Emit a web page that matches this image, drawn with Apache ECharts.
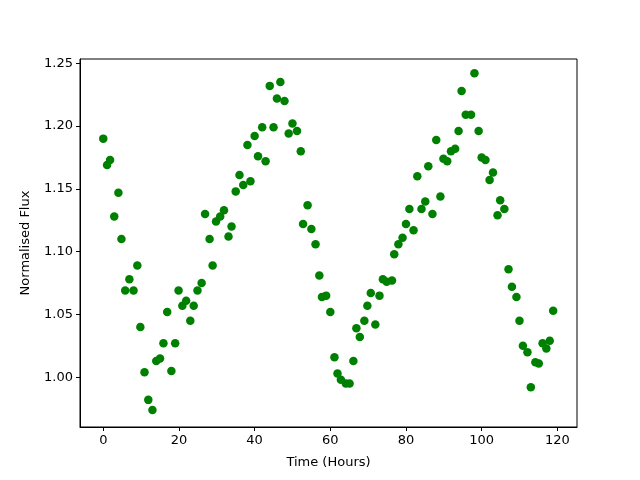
<!DOCTYPE html>
<html>
<head>
<meta charset="utf-8">
<script src="https://cdn.jsdelivr.net/npm/echarts@6/dist/echarts.min.js"></script>
<style>
  html, body { margin: 0; padding: 0; background: #fff; }
  #chart { width: 640px; height: 480px; }
</style>
</head>
<body>
<div id="chart"></div>
<script>
// 时间（小时）
const hours = [
    0, 1.0, 1.8, 2.9, 4.0, 4.8, 5.8, 6.9, 8.0, 9.0,
    9.8, 10.9, 11.9, 13.0, 14.0, 15.0, 15.9, 16.9, 18.0, 19.0,
    19.9, 20.9, 21.9, 23.0, 23.9, 24.9, 26.0, 26.9, 28.1, 28.9,
    29.8, 30.9, 31.9, 33.1, 33.9, 35.0, 36.0, 37.0, 38.1, 38.9,
    40.0, 40.9, 42.0, 42.9, 44.0, 45.0, 45.9, 46.8, 47.9, 49.0,
    50.0, 51.2, 52.2, 52.8, 54.0, 55.0, 56.1, 57.1, 57.8, 58.9,
    60.0, 61.1, 61.9, 62.8, 64.1, 65.1, 66.1, 66.9, 67.8, 69.0,
    69.8, 70.7, 71.9, 73.0, 73.9, 74.9, 76.3, 76.9, 78.0, 79.1,
    80.0, 80.9, 82.0, 83.0, 84.1, 85.1, 85.9, 87.0, 88.0, 89.1,
    89.9, 90.9, 91.9, 93.0, 93.9, 94.7, 95.8, 97.2, 98.1, 99.2,
    100.0, 101.0, 102.1, 103.0, 104.2, 104.9, 106.0, 107.1, 108.0, 109.2,
    110.0, 110.9, 112.1, 113.0, 114.2, 115.1, 116.1, 117.1, 118.0, 118.9
];

// 归一化流量
const flux = [
    1.190, 1.169, 1.173, 1.128, 1.147, 1.110, 1.069, 1.078, 1.069, 1.089,
    1.040, 1.004, 0.982, 0.974, 1.013, 1.015, 1.027, 1.052, 1.005, 1.027,
    1.069, 1.057, 1.061, 1.045, 1.057, 1.069, 1.075, 1.130, 1.110, 1.089,
    1.124, 1.128, 1.133, 1.112, 1.120, 1.148, 1.161, 1.153, 1.185, 1.156,
    1.192, 1.176, 1.199, 1.172, 1.232, 1.199, 1.222, 1.235, 1.220, 1.194,
    1.202, 1.196, 1.180, 1.122, 1.137, 1.118, 1.106, 1.081, 1.064, 1.065,
    1.052, 1.016, 1.003, 0.998, 0.995, 0.995, 1.013, 1.039, 1.032, 1.045,
    1.057, 1.067, 1.042, 1.065, 1.078, 1.076, 1.077, 1.098, 1.106, 1.111,
    1.122, 1.134, 1.117, 1.160, 1.134, 1.140, 1.168, 1.130, 1.189, 1.144,
    1.174, 1.172, 1.180, 1.182, 1.196, 1.228, 1.209, 1.209, 1.242, 1.196,
    1.175, 1.173, 1.157, 1.163, 1.129, 1.141, 1.134, 1.086, 1.072, 1.064,
    1.045, 1.025, 1.020, 0.992, 1.012, 1.011, 1.027, 1.023, 1.029, 1.053
];

// 刻度
const xTicks = [0, 20, 40, 60, 80, 100, 120];
const yTicks = [1.00, 1.05, 1.10, 1.15, 1.20, 1.25];

const points = hours.map((h, i) => [h, flux[i]]);

const font = 'DejaVu Sans';
const chart = echarts.init(document.getElementById('chart'), null, { renderer: 'canvas' });

chart.setOption({
    animation: false,
    backgroundColor: '#fff',
    grid: {
        left: 80, right: 63, top: 59, bottom: 53,
        show: true, borderColor: '#000', borderWidth: 1,
        containLabel: false
    },
    xAxis: {
        type: 'value',
        min: -6.15, max: 125.2,
        name: 'Time (Hours)',
        nameLocation: 'middle',
        nameGap: 29,
        nameTextStyle: { fontFamily: font, fontSize: 13, color: '#000' },
        axisLine: { show: true, onZero: false, lineStyle: { color: '#000', width: 1 } },
        axisTick: { show: true, length: 4, customValues: xTicks, lineStyle: { color: '#000' } },
        axisLabel: { customValues: xTicks, margin: 7, fontFamily: font, fontSize: 13, color: '#000' },
        splitLine: { show: false }
    },
    yAxis: {
        type: 'value',
        min: 0.9604, max: 1.2534,
        name: 'Normalised Flux',
        nameLocation: 'middle',
        nameGap: 48,
        nameTextStyle: { fontFamily: font, fontSize: 13, color: '#000' },
        axisLine: { show: true, onZero: false, lineStyle: { color: '#000', width: 1 } },
        axisTick: { show: true, length: 4, customValues: yTicks, lineStyle: { color: '#000' } },
        axisLabel: {
            customValues: yTicks, margin: 7, fontFamily: font, fontSize: 13, color: '#000',
            formatter: v => v.toFixed(2)
        },
        splitLine: { show: false }
    },
    series: [{
        type: 'scatter',
        data: points,
        symbol: 'circle',
        symbolSize: 8.5,
        itemStyle: { color: '#008000', opacity: 1 }
    }]
});
</script>
</body>
</html>
